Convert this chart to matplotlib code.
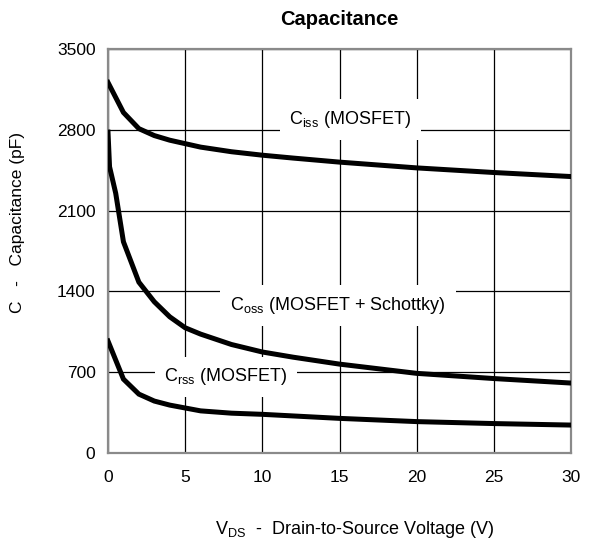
import matplotlib

matplotlib.use("Agg")
import matplotlib.pyplot as plt

plt.rcParams["font.family"] = ["Liberation Sans", "DejaVu Sans"]
plt.rcParams["mathtext.fontset"] = "custom"
plt.rcParams["mathtext.rm"] = "Liberation Sans"
plt.rcParams["mathtext.it"] = "Liberation Sans"

# Curves (V, pF)
ciss_v = [0, 1, 2, 3, 4, 5, 6, 7, 8, 10, 12, 15, 20, 25, 30]
ciss_pf = [3210, 2950, 2810, 2750, 2710, 2680, 2650, 2630, 2610, 2580, 2555, 2520, 2470, 2430, 2395]

coss_v = [0, 0.1, 0.5, 1, 2, 3, 4, 5, 6, 8, 10, 12, 15, 20, 25, 30]
coss_pf = [2780, 2480, 2250, 1830, 1480, 1310, 1180, 1085, 1030, 940, 875, 830, 770, 690, 645, 606]

crss_v = [0, 1, 2, 3, 4, 5, 6, 8, 10, 15, 20, 25, 30]
crss_pf = [970, 640, 510, 450, 415, 390, 365, 345, 335, 300, 272, 255, 242]

x_ticks = [0, 5, 10, 15, 20, 25, 30]
y_ticks = [0, 700, 1400, 2100, 2800, 3500]

fig = plt.figure(figsize=(5.91, 5.42), dpi=100)
ax = fig.add_axes((108 / 591, 89 / 542, 463 / 591, 404 / 542))

for xs, ys in [(ciss_v, ciss_pf), (coss_v, coss_pf), (crss_v, crss_pf)]:
    ax.plot(xs, ys, color="black", lw=3.6, solid_joinstyle="miter", zorder=4)

ax.set_xlim(0, 30)
ax.set_ylim(0, 3500)
ax.set_xticks(x_ticks)
ax.set_yticks(y_ticks)
ax.tick_params(axis="y", length=0, labelsize=12.5, pad=9)
ax.tick_params(axis="x", length=0, labelsize=12.5, pad=12)
ax.grid(True, color="black", lw=0.9, zorder=1)
ax.set_axisbelow(True)
for s in ax.spines.values():
    s.set_color("#8a8a8a")
    s.set_linewidth(1.6)

# white boxes break the grid behind each curve label
box = dict(facecolor="white", edgecolor="none", pad=7)
ax.text(15.7, 2890, r"C$_{\mathrm{iss}}$ (MOSFET)", ha="center", va="center",
        fontsize=13, bbox=box, zorder=3)
ax.text(14.9, 1280, r"C$_{\mathrm{oss}}$ (MOSFET + Schottky)", ha="center",
        va="center", fontsize=13, bbox=box, zorder=3)
ax.text(7.65, 660, r"C$_{\mathrm{rss}}$ (MOSFET)", ha="center", va="center",
        fontsize=13, bbox=box, zorder=3)

ax.set_title("Capacitance", fontsize=14.5, fontweight="bold", pad=17)
ax.set_xlabel(r"V$_{\mathrm{DS}}$  -  Drain-to-Source Voltage (V)", fontsize=13)
ax.xaxis.set_label_coords(0.533, -0.163)
ax.set_ylabel("C   -   Capacitance (pF)", fontsize=12.5)
ax.yaxis.set_label_coords(-0.179, 0.57)

fig.savefig("out.png", dpi=100)
